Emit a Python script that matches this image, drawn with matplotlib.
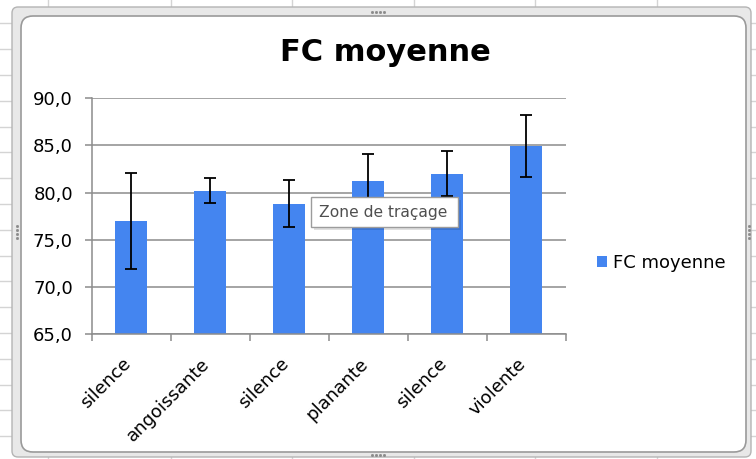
import numpy as np
from matplotlib import pyplot as plt
from matplotlib.patches import FancyBboxPatch, Rectangle
from matplotlib.transforms import ScaledTranslation

categories = ['silence', 'angoissante', 'silence', 'planante', 'silence', 'violente']
fc_moyenne = [77.0, 80.2, 78.8, 81.2, 82.0, 84.95]
fc_erreur = [5.1, 1.35, 2.5, 2.85, 2.4, 3.25]
yticks = [65, 70, 75, 80, 85, 90]
ytick_labels = ['65,0', '70,0', '75,0', '80,0', '85,0', '90,0']

W, H = 756, 459
bar_color = '#4485f0'
grid_color = '#8c8c8c'

fig = plt.figure(figsize=(W/100, H/100), dpi=100)

# spreadsheet + chart frame, pixel coords
bg = fig.add_axes([0, 0, 1, 1], zorder=0)
bg.set_xlim(0, W)
bg.set_ylim(H, 0)
bg.axis('off')
for y in np.arange(23.3, H, 25.8):
    bg.plot([0, W], [y, y], color='#d4d4d4', lw=1, zorder=0)
for x in [48, 171, 292, 414, 535, 657]:
    bg.plot([x, x], [0, H], color='#d4d4d4', lw=1, zorder=0)
bg.add_patch(FancyBboxPatch((12, 7), 739, 450, boxstyle='round,pad=0,rounding_size=6',
                            facecolor='#e8e8e8', edgecolor='#b4b4b4', lw=1, zorder=1))
bg.add_patch(FancyBboxPatch((21, 16), 725, 436, boxstyle='round,pad=0,rounding_size=12',
                            facecolor='white', edgecolor='#9a9a9a', lw=1.2, zorder=2))
# little resize handles
for cx, cy, horiz in [(378, 11.5, True), (378, 454.5, True), (16.5, 232, False), (748.5, 232, False)]:
    offs = np.arange(-6, 7, 4)
    if horiz:
        bg.plot(cx + offs, [cy]*4, ls='none', marker='s', ms=1.0, color='#8a8a8a', zorder=3)
    else:
        bg.plot([cx]*4, cy + offs, ls='none', marker='s', ms=1.0, color='#8a8a8a', zorder=3)

# plot area: x 91.7..565.7, y 98.3..334
ax = fig.add_axes([91.7/W, 1 - 334/H, 474/W, 235.7/H], zorder=1)
x = np.arange(len(categories))
bars = ax.bar(x, fc_moyenne, width=0.4, color=bar_color, label='FC moyenne', zorder=2)
ax.errorbar(x, fc_moyenne, yerr=fc_erreur, fmt='none', ecolor='black',
            elinewidth=1.3, capsize=4.5, capthick=1.3, zorder=3)

ax.set_xlim(-0.5, len(categories) - 0.5)
ax.set_ylim(65, 90)
ax.set_yticks(yticks)
ax.set_yticklabels(ytick_labels)
ax.yaxis.grid(True, color=grid_color, lw=1.1)
ax.set_axisbelow(True)
for s in ['top', 'right']:
    ax.spines[s].set_visible(False)
for s in ['left', 'bottom']:
    ax.spines[s].set_color(grid_color)
    ax.spines[s].set_linewidth(1.1)

ax.set_xticks(x)
ax.set_xticklabels(categories, rotation=45, ha='right', va='center', rotation_mode='anchor')
ax.set_xticks(np.arange(-0.5, len(categories)), minor=True)
ax.tick_params(axis='x', which='major', length=0, pad=19.5, labelsize=13)
ax.tick_params(axis='x', which='minor', length=5, color=grid_color, width=1.1)
ax.tick_params(axis='y', length=5, color=grid_color, width=1.1, pad=8.5, labelsize=13)
shift = ScaledTranslation(-3/100, 0, fig.dpi_scale_trans)
for lab in ax.get_xticklabels():
    lab.set_transform(lab.get_transform() + shift)

fig.text(385/W, 1 - 61/H, 'FC moyenne', ha='center', va='baseline',
         fontsize=22, fontweight='bold')

fig.legend(handles=[bars], loc='center left', bbox_to_anchor=(597/W, 1 - 263/H),
           frameon=False, fontsize=13, handlelength=0.55, handleheight=0.55,
           handletextpad=0.35, borderpad=0, borderaxespad=0)

# tooltip overlay
ov = fig.add_axes([0, 0, 1, 1], zorder=3)
ov.set_xlim(0, W)
ov.set_ylim(H, 0)
ov.axis('off')
ov.add_patch(Rectangle((314, 200), 147, 30, facecolor='#000000', alpha=0.12, lw=0))
ov.add_patch(Rectangle((311, 197), 147, 30, facecolor='white', edgecolor='#9c9c9c', lw=1))
ov.text(319, 212, 'Zone de traçage', ha='left', va='center', fontsize=11.2, color='#4f4f4f')

fig.savefig('out.png', dpi=100)
